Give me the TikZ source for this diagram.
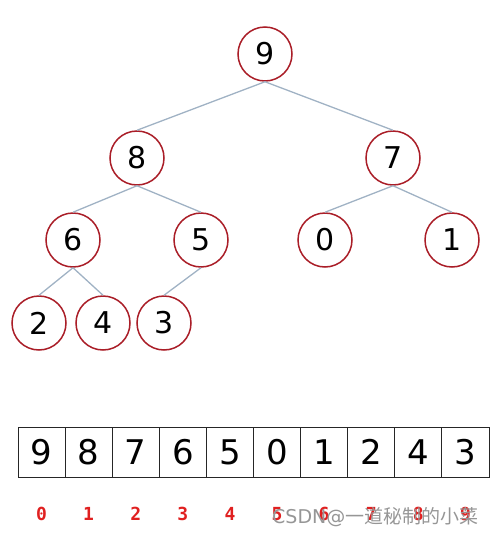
\documentclass[tikz,border=0pt]{standalone}
\usepackage{fontspec}
\setmainfont{DejaVu Sans}
\newfontfamily\monof{DejaVu Sans Mono}
\newfontfamily\cjkf{Noto Sans CJK SC}
\definecolor{ringred}{RGB}{170,30,40}
\definecolor{edgegray}{RGB}{160,178,196}
\definecolor{idxred}{RGB}{224,32,32}
\definecolor{wmgray}{RGB}{150,150,150}
\begin{document}
\begin{tikzpicture}[x=1pt,y=-1pt,
  hnode/.style={circle,draw=ringred,line width=1.5pt,minimum size=54pt,inner sep=0pt,font=\fontsize{30}{30}\selectfont,fill=white},
  hedge/.style={draw=edgegray,line width=1.3pt},
  cell/.style={draw=black!85,line width=1pt,minimum width=47.1pt,minimum height=50pt,inner sep=0pt,font=\fontsize{34}{34}\selectfont},
  idx/.style={text=idxred,font=\monof\bfseries\fontsize{18}{18}\selectfont}]
\useasboundingbox (0,0) rectangle (499,536);
\node[hnode] (n9) at (265,54) {9};
\node[hnode] (n8) at (137,158) {8};
\node[hnode] (n7) at (393,158) {7};
\node[hnode] (n6) at (73,240) {6};
\node[hnode] (n5) at (201,240) {5};
\node[hnode] (n0) at (325,240) {0};
\node[hnode] (n1) at (452,240) {1};
\node[hnode] (n2) at (39,323) {2};
\node[hnode] (n4) at (103,323) {4};
\node[hnode] (n3) at (164,323) {3};
\draw[hedge] (n9.south) -- (n8.north);
\draw[hedge] (n9.south) -- (n7.north);
\draw[hedge] (n8.south) -- (n6.north);
\draw[hedge] (n8.south) -- (n5.north);
\draw[hedge] (n7.south) -- (n0.north);
\draw[hedge] (n7.south) -- (n1.north);
\draw[hedge] (n6.south) -- (n2.north);
\draw[hedge] (n6.south) -- (n4.north);
\draw[hedge] (n5.south) -- (n3.north);
\foreach \v [count=\i from 0] in {9,8,7,6,5,0,1,2,4,3} {
  \node[cell] (c\i) at ({18+47.1*(\i+0.5)},452) {\v};
  \node[idx] (i\i) at ({18+47.1*(\i+0.5)},514) {\i};
}
\node[text=wmgray,font=\fontsize{19}{19}\selectfont,anchor=west,inner sep=0pt] (wm) at (272,517) {CSDN@{\cjkf 一道秘制的小菜}};
\end{tikzpicture}
\end{document}
